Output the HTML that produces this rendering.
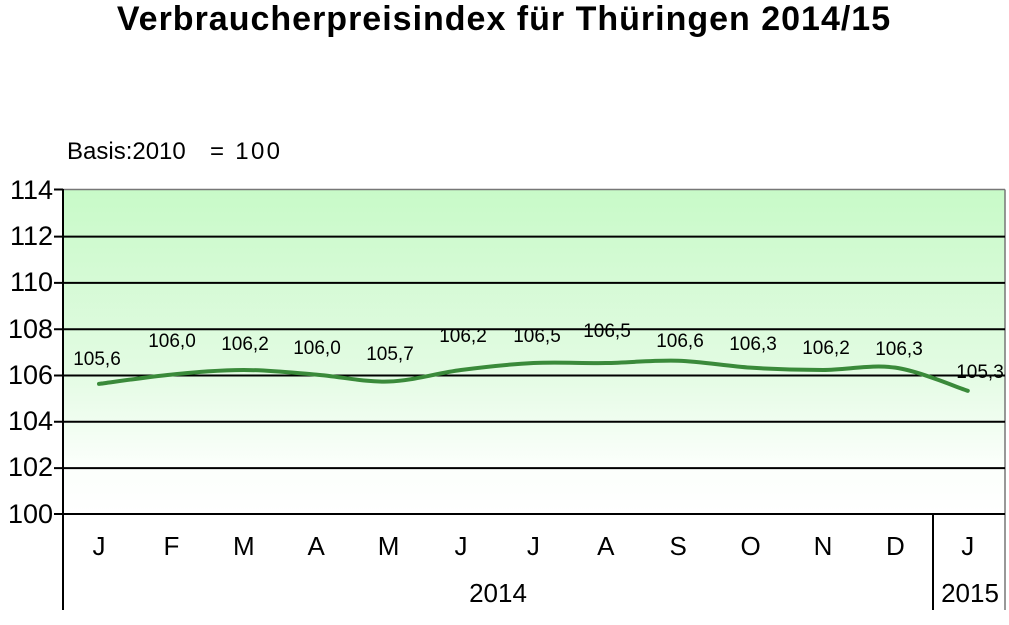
<!DOCTYPE html>
<html><head><meta charset="utf-8"><style>
body{margin:0;background:#fff;width:1009px;height:620px;overflow:hidden}
svg text{font-family:"Liberation Sans",sans-serif}
</style></head><body>
<svg id="s" width="1009" height="620" xmlns="http://www.w3.org/2000/svg">
<defs><linearGradient id="g" x1="0" y1="0" x2="0" y2="1">
<stop offset="0" stop-color="#c8fac8"/><stop offset="0.55" stop-color="#e2fbe2"/><stop offset="0.85" stop-color="#fbfffb"/><stop offset="1" stop-color="#ffffff"/></linearGradient></defs>
<text x="504" y="30" font-size="34" font-weight="bold" text-anchor="middle" letter-spacing="1">Verbraucherpreisindex für Thüringen 2014/15</text>
<text x="67" y="159" font-size="24">Basis:2010</text>
<text x="210" y="159" font-size="24" textLength="70">= 100</text>
<rect x="63" y="189.5" width="942" height="324" fill="url(#g)"/>
<line x1="63" y1="189.5" x2="1005" y2="189.5" stroke="#777" stroke-width="1.5"/>
<line x1="1005" y1="189.5" x2="1005" y2="610" stroke="#777" stroke-width="1.5"/>
<g stroke="#000" stroke-width="2">
<line x1="54" y1="236.6" x2="1005" y2="236.6"/><line x1="54" y1="282.9" x2="1005" y2="282.9"/>
<line x1="54" y1="329.2" x2="1005" y2="329.2"/><line x1="54" y1="375.5" x2="1005" y2="375.5"/>
<line x1="54" y1="421.8" x2="1005" y2="421.8"/><line x1="54" y1="468.1" x2="1005" y2="468.1"/>
<line x1="54" y1="514" x2="1005" y2="514"/><line x1="54" y1="189.5" x2="63" y2="189.5"/>
<line x1="63" y1="189" x2="63" y2="610"/><line x1="933" y1="514" x2="933" y2="610"/>
</g>
<g font-size="27" text-anchor="end">
<text x="53" y="199">114</text><text x="53" y="245">112</text><text x="53" y="291">110</text><text x="53" y="338">108</text><text x="53" y="384">106</text><text x="53" y="430">104</text><text x="53" y="476">102</text><text x="53" y="523">100</text>
</g>
<g id="m" font-size="26" text-anchor="middle"></g>
<text x="498" y="602" font-size="26" text-anchor="middle">2014</text>
<text x="970" y="602" font-size="26" text-anchor="middle">2015</text>
<path id="p" fill="none" stroke="#3a8a3a" stroke-width="4" stroke-linecap="round"/>
<g id="l" font-size="19" text-anchor="middle"></g>
</svg>
<script>
var v=[105.6,106.0,106.2,106.0,105.7,106.2,106.5,106.5,106.6,106.3,106.2,106.3,105.3];
var mo="JFMAMJJASONDJ";
var lx=[97,172,245,317,390,463,537,607,680,753,826,899,980],ly=[358,340,343,347,353,335,335,330,340,343,347,348,371];
var P=v.map(function(y,i){return [99+i*72.4,513.5-(y-100)*23.15]});
var d="M"+P[0];
for(var i=0;i<P.length-1;i++){var a=P[Math.max(i-1,0)],b=P[i],c=P[i+1],e=P[Math.min(i+2,P.length-1)];
d+=" C"+(b[0]+(c[0]-a[0])/6)+","+(b[1]+(c[1]-a[1])/6)+" "+(c[0]-(e[0]-b[0])/6)+","+(c[1]-(e[1]-b[1])/6)+" "+c;}
document.getElementById("p").setAttribute("d",d);
var m="",l="";
for(i=0;i<13;i++){m+='<text x="'+(99+i*72.4)+'" y="555">'+mo[i]+'</text>';
l+='<text x="'+lx[i]+'" y="'+(ly[i]+7)+'">'+v[i].toFixed(1).replace(".",",")+'</text>';}
document.getElementById("m").innerHTML=m;document.getElementById("l").innerHTML=l;
</script>
</body></html>
